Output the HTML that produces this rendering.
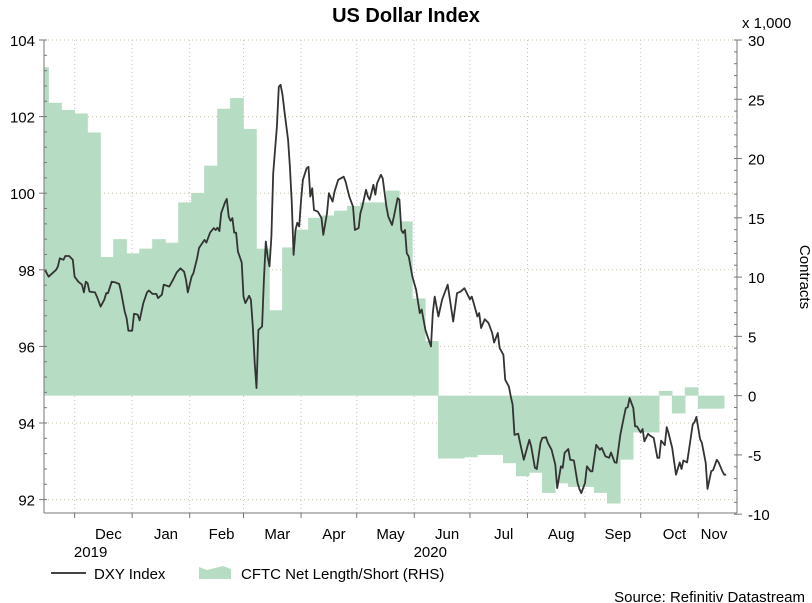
<!DOCTYPE html>
<html><head><meta charset="utf-8"><style>
body{margin:0;background:#fff;}
svg{display:block;font-family:"Liberation Sans",Arial,sans-serif;}
</style></head><body>
<svg id="chart" width="812" height="603" viewBox="0 0 812 603">
<text x="406" y="22" text-anchor="middle" font-size="20" font-weight="bold">US Dollar Index</text>
<g id="grid"></g>
<g id="bars"></g>
<g id="lineg"></g>
<g id="axes"></g>
<text x="742" y="28" font-size="15">x 1,000</text>
<text transform="translate(800,277) rotate(90)" text-anchor="middle" font-size="15">Contracts</text>
<g>
<line x1="51" y1="573" x2="86" y2="573" stroke="#444" stroke-width="2"/>
<text x="94" y="579" font-size="15">DXY Index</text>
<path d="M199 579 L199 567 L207 570 L215 568 L223 566 L231 569 L231 579 Z" fill="#b6dcc3"/>
<text x="241" y="579" font-size="15">CFTC Net Length/Short (RHS)</text>
</g>
<text x="805" y="602" text-anchor="end" font-size="15">Source: Refinitiv Datastream</text>
</svg>
<script>
const cftc=[27.7,24.7,24.1,23.8,22.2,11.7,13.2,12.0,12.4,13.2,12.9,16.3,17.1,19.4,24.2,25.1,22.5,12.4,7.2,12.5,14.0,15.0,15.2,15.6,16.0,16.3,16.3,17.3,14.7,8.2,4.6,-5.3,-5.3,-5.2,-5.0,-5.0,-5.7,-6.8,-6.5,-8.2,-7.4,-7.7,-7.7,-8.2,-9.1,-5.4,-3.1,-3.1,0.4,-1.5,0.7,-1.1,-1.1];
const dxyDays=[0,2,6,7,8,10,11,13,15,16,18,20,21,22,23,24,27,28,30,32,33,34,36,38,40,41,43,44,45,47,48,50,51,53,55,56,58,60,61,63,64,66,67,69,71,73,75,76,77,79,80,82,83,86,87,89,91,92,93,94,95,97,98,99,100,101,102,103,104,106,107,108,110,111,112,113,114,115,117,118,119,120,121,122,123,125,126,127,128,129,131,132,133,134,135,136,137,138,139,141,142,143,144,145,147,149,150,152,153,155,156,158,161,162,164,166,167,169,170,171,173,174,175,177,178,179,181,182,184,185,187,188,190,191,192,193,194,195,196,198,200,202,203,205,208,209,210,212,214,217,220,222,224,226,229,230,231,233,234,235,237,239,241,242,244,245,247,248,250,251,252,253,255,256,258,260,261,262,264,265,267,268,270,271,273,275,276,278,279,280,282,283,285,287,288,289,291,292,294,295,297,299,300,302,304,305,307,308,310,312,313,314,315,317,318,319,321,322,323,325,326,328,330,331,332,334,335,336,338,340,342,343,344,346,347,349,350,351,353,354,356,357,359,360,362,363,365,366,367];
const dxyVals=[98.00,97.82,98.00,98.09,98.30,98.26,98.36,98.36,98.26,97.82,97.69,97.61,97.41,97.69,97.65,97.43,97.41,97.30,97.04,97.22,97.39,97.39,97.69,97.67,97.63,97.43,96.91,96.74,96.41,96.41,96.85,96.83,96.68,97.13,97.41,97.46,97.37,97.37,97.26,97.35,97.61,97.58,97.56,97.74,97.93,98.04,97.95,97.74,97.41,97.82,97.91,98.30,98.57,98.78,98.71,98.97,99.09,99.04,99.10,99.01,99.48,99.76,99.85,99.39,99.28,99.35,98.97,98.97,98.48,98.19,97.30,97.13,97.32,97.22,96.52,95.57,94.91,96.43,96.52,97.74,98.74,98.35,98.09,98.87,100.52,101.74,102.78,102.83,102.57,102.17,101.39,100.69,99.74,98.39,99.04,99.23,99.13,99.83,100.35,100.65,100.69,99.91,100.13,99.56,99.52,99.35,98.91,99.48,100.00,99.78,100.04,100.35,100.43,100.30,99.91,99.65,99.04,99.09,99.48,99.65,100.09,99.91,99.83,100.22,99.96,100.26,100.48,100.39,99.65,99.39,99.17,99.39,99.87,99.83,99.04,98.96,99.04,98.43,98.35,97.82,97.48,96.87,96.96,96.43,96.00,96.87,97.30,96.78,97.22,97.61,96.65,97.39,97.43,97.52,97.23,97.30,97.13,96.78,96.87,96.48,96.71,96.61,96.35,96.10,96.35,95.96,95.78,95.13,94.95,94.69,94.48,93.69,93.72,93.48,93.04,93.39,93.56,93.39,92.83,92.80,93.48,93.61,93.63,93.48,93.30,92.91,92.30,92.87,92.83,93.22,93.32,93.04,93.02,92.43,92.28,92.17,92.43,92.87,92.74,92.74,93.43,93.30,93.35,93.13,93.09,93.23,92.97,92.96,93.69,94.17,94.39,94.41,94.65,94.39,93.91,93.91,93.75,93.84,93.52,93.72,93.67,93.61,93.09,93.09,93.54,93.42,93.89,93.74,93.35,92.65,92.97,92.80,93.02,92.97,93.30,93.96,94.02,94.16,93.58,93.48,92.96,92.28,92.74,92.77,93.04,92.97,92.74,92.65,92.65];
const monthNames=["Dec","Jan","Feb","Mar","Apr","May","Jun","Jul","Aug","Sep","Oct","Nov"];
const monthStarts=[16,47,78,107,138,168,199,229,260,291,321,352];
const leftTicks=[92,94,96,98,100,102,104];
const rightTicks=[-10,-5,0,5,10,15,20,25,30];
const yearLabels=["2019","2020"];
const yearMonthIdx=[0,6];

const NS="http://www.w3.org/2000/svg";
const L=44,R=737,T=40,B=513,DAYEND=368;
const x=d=>L+(d+0.5)*(R-10-L)/DAYEND;
const yL=v=>T+(104-v)*(B-T)/(104-91.65);
const yR=v=>T+(30-v)*(B-T)/(30+9.9);
function mk(tag,attrs,parent){const e=document.createElementNS(NS,tag);for(const k in attrs)e.setAttribute(k,attrs[k]);parent.appendChild(e);return e;}
const grid=document.getElementById('grid'),bars=document.getElementById('bars'),lineg=document.getElementById('lineg'),axes=document.getElementById('axes');

// gridlines
leftTicks.forEach(v=>{const g=mk('line',{x1:L,x2:R,y1:yL(v),y2:yL(v),stroke:'#c9c2a8','stroke-width':1,'stroke-dasharray':'1,3'},grid);

});
monthStarts.forEach(d=>{const g=mk('line',{x1:x(d),x2:x(d),y1:T,y2:B,stroke:'#c4bfd6','stroke-width':1,'stroke-dasharray':'1,3'},grid);

});

// CFTC bars (weekly)
const clip=mk('clipPath',{id:'pc'},document.getElementById('chart'));
mk('rect',{x:L,y:T,width:R-10-L+1,height:B-T},clip);
bars.setAttribute('clip-path','url(#pc)');
const wk=7;
cftc.forEach((v,i)=>{const d0=i*wk-5.2;const x0=x(d0),x1=x(d0+wk);const y0=yR(0),y1=yR(v);
const r=mk('rect',{x:x0,y:Math.min(y0,y1),width:x1-x0+0.6,height:Math.abs(y1-y0),fill:'#b6dcc3'},bars);

});

// DXY line
const pts=dxyDays.map((d,i)=>x(d).toFixed(1)+','+yL(dxyVals[i]).toFixed(1)).join(' ');
const pl=mk('polyline',{points:pts,fill:'none',stroke:'#333','stroke-width':1.8,'stroke-linejoin':'round'},lineg);



// axes
const ax=(a)=>{const e=mk('line',Object.assign({stroke:'#777','stroke-width':1},a),axes);return e;};
const la=ax({x1:L,x2:L,y1:T,y2:B});
const ra=ax({x1:R,x2:R,y1:T,y2:B});
const ba=ax({x1:L,x2:R,y1:B,y2:B});
for(let v=92;v<=104.001;v+=0.4){ax({x1:L,x2:L+3,y1:yL(v),y2:yL(v)});}
leftTicks.forEach(v=>{ax({x1:L-5,x2:L,y1:yL(v),y2:yL(v)});
const t=mk('text',{x:L-9,y:yL(v)+6,'text-anchor':'end','font-size':15},axes);t.textContent=v;

});
for(let v=-10;v<=30;v+=1){ax({x1:R-3,x2:R,y1:yR(v),y2:yR(v)});}
rightTicks.forEach(v=>{ax({x1:R,x2:R+5,y1:yR(v),y2:yR(v)});
const t=mk('text',{x:R+11,y:yR(v)+6,'font-size':15},axes);t.textContent=v;

});
monthStarts.forEach((d,i)=>{ax({x1:x(d),x2:x(d),y1:B,y2:B+5});
const next=i<monthStarts.length-1?monthStarts[i+1]:DAYEND;
const t=mk('text',{x:Math.min((x(d)+x(next))/2+5,714),y:539,'text-anchor':'middle','font-size':15},axes);t.textContent=monthNames[i];

});
yearLabels.forEach((yl,i)=>{const d=monthStarts[yearMonthIdx[i]];
const t=mk('text',{x:x(d)+16,y:557,'text-anchor':'middle','font-size':15},axes);t.textContent=yl;

});
</script>
</body></html>
